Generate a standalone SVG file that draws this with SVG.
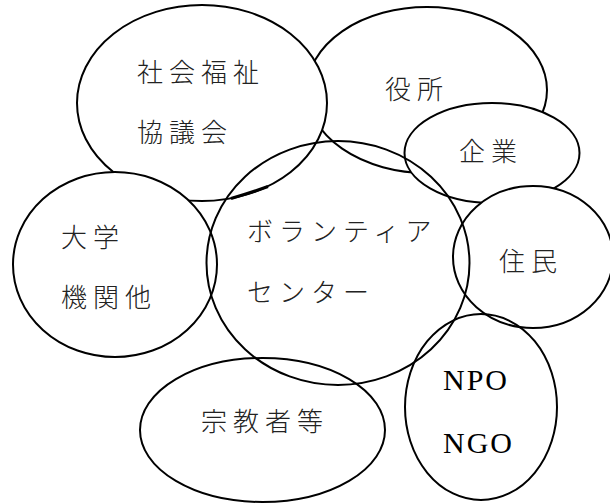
<svg xmlns="http://www.w3.org/2000/svg" width="610" height="503" viewBox="0 0 610 503">
<style>
.e{stroke:#000;stroke-width:2}
.f{fill:#fff}
.n{fill:none}
.t{font-family:"Noto Sans CJK JP","Noto Sans CJK SC",sans-serif;font-size:26px;letter-spacing:6px;fill:#222;font-weight:300}
.s{font-family:"Liberation Serif",serif;font-size:30px;letter-spacing:2px;fill:#000}
</style>
<rect width="610" height="503" fill="#fff"/>
<g id="yakusho">
<ellipse class="e f" cx="427" cy="90" rx="120" ry="83"/>
<text class="t" x="385" y="99">役所</text>
</g>
<g id="shakyo">
<ellipse class="e f" cx="202" cy="103" rx="125" ry="98"/>
<text class="t" x="137" y="82">社会福祉</text>
<text class="t" x="137" y="142">協議会</text>
<path d="M231,198.5 Q250,193 268,186.5" fill="none" stroke="#000" stroke-width="3"/>
</g>
<g id="daigaku">
<ellipse class="e f" cx="115" cy="264.5" rx="102" ry="92.5"/>
<text class="t" x="61" y="247">大学</text>
<text class="t" x="61" y="307">機関他</text>
</g>
<g id="kigyo">
<ellipse class="e f" cx="492" cy="153" rx="87.5" ry="50"/>
<text class="t" x="459" y="161">企業</text>
</g>
<g id="jumin">
<ellipse class="e f" cx="533" cy="257" rx="80" ry="71"/>
<text class="t" x="499" y="271">住民</text>
</g>
<g id="center">
<ellipse class="e n" cx="338" cy="263" rx="131.5" ry="122"/>
<text class="t" x="247" y="241">ボランティア</text>
<text class="t" x="247" y="302">センター</text>
</g>
<g id="npo">
<ellipse class="e n" cx="481" cy="407" rx="76" ry="93"/>
<text class="s" x="443" y="390">NPO</text>
<text class="s" x="443" y="453">NGO</text>
</g>
<g id="shukyo">
<ellipse class="e n" cx="262.5" cy="430" rx="122.5" ry="72"/>
<text class="t" x="201" y="431">宗教者等</text>
</g>
<g id="connectors"/>
</svg>
